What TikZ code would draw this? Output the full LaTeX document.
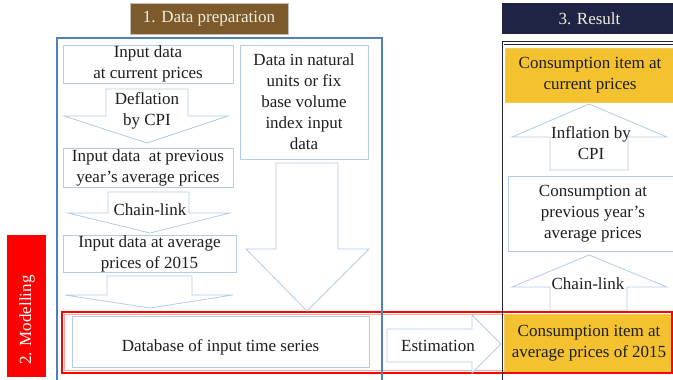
\documentclass[tikz,border=0pt]{standalone}
\usepackage{fontspec}
\setmainfont{Liberation Serif}
\definecolor{brownhdr}{HTML}{7D5A2B}
\definecolor{navy}{HTML}{1F2444}
\definecolor{outerblue}{HTML}{5282B4}
\definecolor{lightblue}{HTML}{B3CDE8}
\definecolor{gold}{HTML}{F4C12F}
\definecolor{txt}{HTML}{1E1E1E}
\definecolor{hdrtxt}{HTML}{F2EEE0}
\begin{document}
\begin{tikzpicture}[x=1pt,y=-1pt, font=\fontsize{17}{21}\selectfont, text=txt,
  box/.style={draw=lightblue, line width=0.8pt, fill=white, inner sep=0pt, align=center},
  goldbox/.style={draw=gold!85!white, line width=0.6pt, fill=gold, inner sep=0pt, align=center},
  barrow/.style={draw=lightblue, line width=0.8pt, fill=white, line join=miter},
  lbl/.style={inner sep=0pt, align=center},
  hdr/.style={inner sep=0pt, text=hdrtxt, minimum height=31}]
\useasboundingbox (0,0) rectangle (673,380);
\clip (0,0) rectangle (673,380);
% headers
\node[hdr, fill=brownhdr, draw=gray!50, minimum width=158] (h1) at (209,18.5) {1. Data preparation};
\node[hdr, fill=navy, minimum width=175] (h3) at (589.5,18.5) {3. Result};
\node[fill=red, minimum width=39, minimum height=142, inner sep=0pt] (h2) at (26.5,306) {};
\node[rotate=90, text=white, inner sep=0pt] (h2t) at (27,320) {2. Modelling};
% frames
\draw[red, line width=1.5pt] (62,312) rectangle (672,373);
\draw[red!35, line width=0.5pt] (64.5,314.5) rectangle (669.5,370.5);
\draw[outerblue, line width=1.3pt] (57,38) rectangle (382,400);
\draw[navy, line width=0.9pt] (501.5,41.5) -- (690,41.5);
\draw[navy, line width=0.9pt] (504,44.5) -- (690,44.5);
% left column
\node[box, minimum width=170, minimum height=38] (in1) at (148,64) {Input data\\at current prices};
\draw[barrow] (106,89) -- (188,89) -- (188,116) -- (228,116) -- (147,143) -- (64,116) -- (106,116) -- cycle;
\node[lbl] (deflab) at (147,111) {Deflation\\by CPI};
\node[box, minimum width=170, minimum height=39] (in2) at (148,167.5) {Input data\ \ at previous\\year’s average prices};
\draw[barrow] (108,192) -- (189,192) -- (189,213) -- (230,213) -- (150,233) -- (68,213) -- (108,213) -- cycle;
\node[lbl] (chl1) at (150,210) {Chain-link};
\node[box, minimum width=173, minimum height=37] (in3) at (149.5,253.5) {Input data at average\\prices of 2015};
\draw[barrow] (107,276) -- (192,276) -- (192,295) -- (233,295) -- (150,308) -- (65,295) -- (107,295) -- cycle;
% right column of data preparation
\node[box, minimum width=128, minimum height=114] (nat) at (304,102) {Data in natural\\units or fix\\base volume\\index input\\data};
\draw[barrow] (276,163) -- (338,163) -- (338,249) -- (369,249) -- (307,311) -- (246,249) -- (276,249) -- cycle;
% modelling
\node[box, minimum width=297, minimum height=51] (db) at (220.5,341.5) {};
\node[lbl] (dbt) at (220.5,347) {Database of input time series};
\draw[barrow] (387,329) -- (472,329) -- (472,315) -- (501,344) -- (472,373) -- (472,362) -- (387,362) -- cycle;
\node[lbl] (estlab) at (438,346) {Estimation};
% result
\node[goldbox, minimum width=170, minimum height=54] (cur) at (590,75) {Consumption item at\\current prices};
\draw[barrow] (550,170) -- (550,137) -- (512,137) -- (589,104) -- (667,137) -- (628,137) -- (628,170) -- cycle;
\node[lbl] (inflab) at (591,143) {Inflation by\\CPI};
\node[box, minimum width=170, minimum height=75] (prev) at (593,213.5) {Consumption at\\previous year’s\\average prices};
\draw[barrow] (550,311) -- (550,287) -- (512,287) -- (589,255) -- (667,287) -- (627,287) -- (627,311) -- cycle;
\node[lbl] (chl2) at (588,284) {Chain-link};
\node[goldbox, minimum width=170, minimum height=58] (base) at (589,343) {Consumption item at\\average prices of 2015};
\draw[red, line width=1.5pt] (502,312) -- (672,312) -- (672,373) -- (502,373);
\draw[navy, line width=1.6pt] (502.5,41) -- (502.5,380);
\end{tikzpicture}
\end{document}
